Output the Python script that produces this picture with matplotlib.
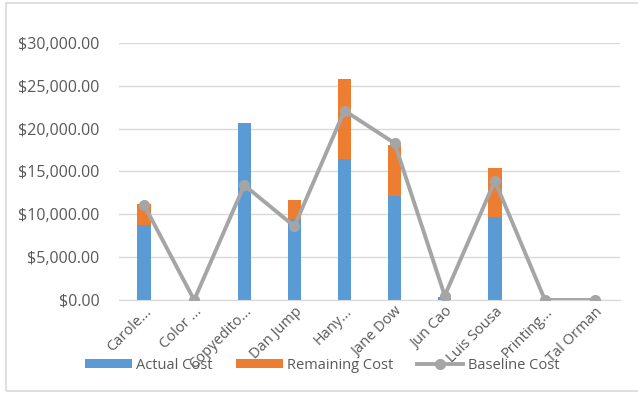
import matplotlib.pyplot as plt
import numpy as np
from matplotlib.patches import Rectangle
from matplotlib.ticker import FuncFormatter

names = ["Carole...", "Color ...", "Copyedito...", "Dan Jump", "Hany...",
         "Jane Dow", "Jun Cao", "Luis Sousa", "Printing...", "Tal Orman"]
actual_cost = [8700, 0, 20700, 9500, 16400, 12100, 300, 9700, 0, 0]
remaining_cost = [2500, 0, 0, 2200, 9400, 6000, 0, 5700, 0, 0]
baseline_cost = [11100, 0, 13400, 8600, 22100, 18300, 500, 13900, 0, 0]

BLUE = "#5B9BD5"
ORANGE = "#ED7D31"
GRAY = "#A5A5A5"
TEXT = "#595959"

plt.rcParams['font.family'] = ['Open Sans', 'DejaVu Sans']

fig = plt.figure(figsize=(6.38, 3.94), dpi=100)
ax = fig.add_axes([0.1865, 0.2386, 0.7855, 0.6524])

# chart area border
fig.patches.append(Rectangle((6 / 638, 3 / 394), 1.0, 388 / 394, transform=fig.transFigure,
                             facecolor='none', edgecolor='#D9D9D9', linewidth=1.2))

x = np.arange(len(names))
w = 0.27
b1 = ax.bar(x, actual_cost, w, color=BLUE, label="Actual Cost", zorder=2)
b2 = ax.bar(x, remaining_cost, w, bottom=actual_cost, color=ORANGE, label="Remaining Cost", zorder=2)
l1, = ax.plot(x, baseline_cost, color=GRAY, linewidth=2.8, marker='o', markersize=7,
              label="Baseline Cost", zorder=3)

ax.set_xlim(-0.5, len(names) - 0.5)
ax.set_ylim(0, 30000)
ax.set_yticks(np.arange(0, 30001, 5000))
ax.yaxis.set_major_formatter(FuncFormatter(lambda v, p: "${:,.2f}".format(v)))
ax.grid(axis='y', color='#D9D9D9', linewidth=1, zorder=0)
ax.set_axisbelow(True)
for s in ['top', 'right', 'left']:
    ax.spines[s].set_visible(False)
ax.spines['bottom'].set_color('#D9D9D9')
ax.tick_params(axis='both', length=0, colors=TEXT)
ax.tick_params(axis='y', pad=14, labelsize=11.5)
ax.tick_params(axis='x', pad=3, labelsize=10.5)
ax.set_xticks(x)
ax.set_xticklabels(names, rotation=45, ha='right', rotation_mode='anchor')

fig.legend([b1, b2, l1], ["Actual Cost", "Remaining Cost", "Baseline Cost"],
           loc='center', bbox_to_anchor=(0.505, 0.073), ncol=3, frameon=False,
           fontsize=10.5, labelcolor=TEXT, handlelength=3.2, handleheight=0.55,
           columnspacing=1.6, handletextpad=0.3)

fig.savefig("out.png", dpi=100)
